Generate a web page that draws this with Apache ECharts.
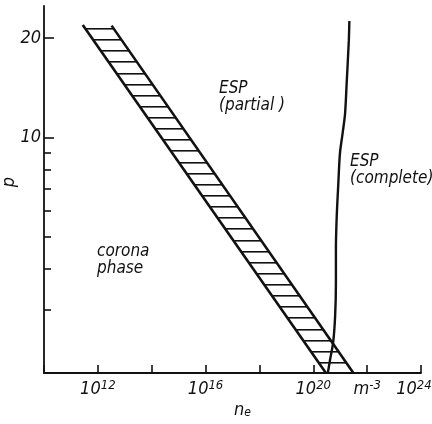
<!DOCTYPE html>
<html>
<head>
<meta charset="utf-8">
<script src="https://cdn.jsdelivr.net/npm/echarts@6/dist/echarts.min.js"></script>
<style>
  html, body { margin: 0; padding: 0; background: #fff; }
  #chart { width: 432px; height: 424px; }
</style>
</head>
<body>
<div id="chart"></div>
<script>
// x values are log10(n_e / m^-3), y values are p
const xTickLabels = { 12: '10', 16: '10', 20: '10', 24: '10' };
const yMajorTicks = [10, 20];
const yMinorTicks = [3, 4, 5, 6, 7, 8, 9];
const pRange = [1.93, 25];

// hatched band between the corona phase and partial ESP
const bandLeftX = [11.44, 20.47];
const bandLeftP = [21.9, 1.93];
const bandRightX = [12.51, 21.49];
const bandRightP = [21.8, 1.93];

// boundary of complete ESP
const completeX = [21.34, 21.32, 21.24, 21.18, 21.09, 20.99, 20.93, 20.87, 20.84, 20.84, 20.81, 20.74, 20.62, 20.54];
const completeP = [22.5, 19.7, 14.6, 11.8, 10.3, 8.94, 7.25, 5.74, 4.57, 3.61, 2.86, 2.40, 2.11, 1.93];

const FONT = '"Liberation Sans Narrow", "DejaVu Sans Condensed", "Liberation Sans", sans-serif';
const INK = '#111';
const lg = Math.log10;

function pairs(xs, ps) {
  return xs.map((x, i) => [x, lg(ps[i])]);
}

function hatchPattern() {
  const period = 334, count = 30;
  const c = document.createElement('canvas');
  c.width = 4;
  c.height = period;
  const ctx = c.getContext('2d');
  ctx.fillStyle = INK;
  for (let k = 0; k < count; k++) ctx.fillRect(0, Math.round(k * period / count), 4, 1.6);
  return { image: c, repeat: 'repeat', x: 0, y: 28 };
}
const hatch = hatchPattern();

const bandOutline = [
  [bandLeftX[0], bandLeftP[0]],
  [bandRightX[0], bandRightP[0]],
  [bandRightX[1], bandRightP[1]],
  [bandLeftX[1], bandLeftP[1]]
];

const lineStyle = { color: INK, width: 2.6 };
const txt = { fontFamily: FONT, fontStyle: 'italic', color: INK };

const myChart = echarts.init(document.getElementById('chart'));
myChart.setOption({
  backgroundColor: '#fff',
  animation: false,
  grid: { left: 44, right: 11, top: 6, bottom: 51, containLabel: false, outerBoundsMode: 'none' },
  xAxis: {
    type: 'value',
    min: 10,
    max: 24,
    interval: 2,
    name: '{b|n}{s|e}',
    nameLocation: 'middle',
    nameGap: 28,
    nameMoveOverlap: false,
    nameTextStyle: {
      padding: [0, 0, 0, 20],
      rich: {
        b: { ...txt, fontSize: 18, lineHeight: 18 },
        s: { ...txt, fontSize: 12, lineHeight: 10, verticalAlign: 'bottom' }
      }
    },
    axisLine: { lineStyle: { color: INK, width: 1.8 } },
    axisTick: { inside: true, length: 8, lineStyle: { color: INK, width: 1.6 } },
    splitLine: { show: false },
    axisLabel: {
      margin: 6,
      formatter: v => {
        if (v === 22) return '{b|m}{s|-3}';
        if (v === 24) return '{b|10}{e|24}';
        return xTickLabels[v] ? '{b|' + xTickLabels[v] + '}{s|' + v + '}' : '';
      },
      rich: {
        b: { ...txt, fontSize: 18, lineHeight: 20 },
        s: { ...txt, fontSize: 13, lineHeight: 13, verticalAlign: 'top' },
        e: { ...txt, fontSize: 13, lineHeight: 13, verticalAlign: 'top', padding: [0, 14, 0, 0] }
      }
    }
  },
  yAxis: [
    {
      type: 'value',
      position: 'left',
      min: lg(pRange[0]),
      max: lg(pRange[1]),
      name: 'p',
      nameLocation: 'middle',
      nameRotate: 90,
      nameGap: 26,
      nameMoveOverlap: false,
      nameTextStyle: { ...txt, fontSize: 18, padding: [0, 0, 0, 15] },
      axisLine: { lineStyle: { color: INK, width: 1.8 } },
      axisTick: {
        inside: true, length: 10,
        customValues: yMajorTicks.map(lg),
        lineStyle: { color: INK, width: 1.6 }
      },
      axisLabel: {
        margin: 3,
        customValues: yMajorTicks.map(lg),
        formatter: v => String(Math.round(Math.pow(10, v))),
        ...txt,
        fontSize: 18
      },
      splitLine: { show: false }
    },
    {
      type: 'value',
      position: 'left',
      offset: 0,
      min: lg(pRange[0]),
      max: lg(pRange[1]),
      axisLine: { show: false },
      axisTick: {
        inside: true, length: 7,
        customValues: yMinorTicks.map(lg),
        lineStyle: { color: INK, width: 1.6 }
      },
      axisLabel: { show: false },
      splitLine: { show: false }
    }
  ],
  graphic: [
    { type: 'text', left: 219, top: 80, style: { text: 'ESP\n(partial )', font: 'italic 17px ' + FONT, lineHeight: 17, fill: INK } },
    { type: 'text', left: 350, top: 153, style: { text: 'ESP\n(complete)', font: 'italic 17px ' + FONT, lineHeight: 17, fill: INK } },
    { type: 'text', left: 97, top: 243, style: { text: 'corona\nphase', font: 'italic 17px ' + FONT, lineHeight: 17, fill: INK } }
  ],
  series: [
    {
      type: 'custom',
      name: 'band',
      data: pairs(bandOutline.map(d => d[0]), bandOutline.map(d => d[1])),
      renderItem: (params, api) => {
        if (params.dataIndex !== 0) return null;
        const pts = bandOutline.map(([x, p]) => api.coord([x, lg(p)]));
        return { type: 'polygon', shape: { points: pts }, style: { fill: hatch, stroke: null } };
      },
      silent: true,
      z: 1
    },
    {
      type: 'line', name: 'band left', data: pairs(bandLeftX, bandLeftP),
      symbol: 'none', lineStyle, z: 3
    },
    {
      type: 'line', name: 'band right', data: pairs(bandRightX, bandRightP),
      symbol: 'none', lineStyle, z: 3
    },
    {
      type: 'line', name: 'ESP complete', data: pairs(completeX, completeP),
      symbol: 'none', smooth: 0.3, lineStyle: { color: INK, width: 2.4 }, z: 3
    }
  ]
});
</script>
</body>
</html>
